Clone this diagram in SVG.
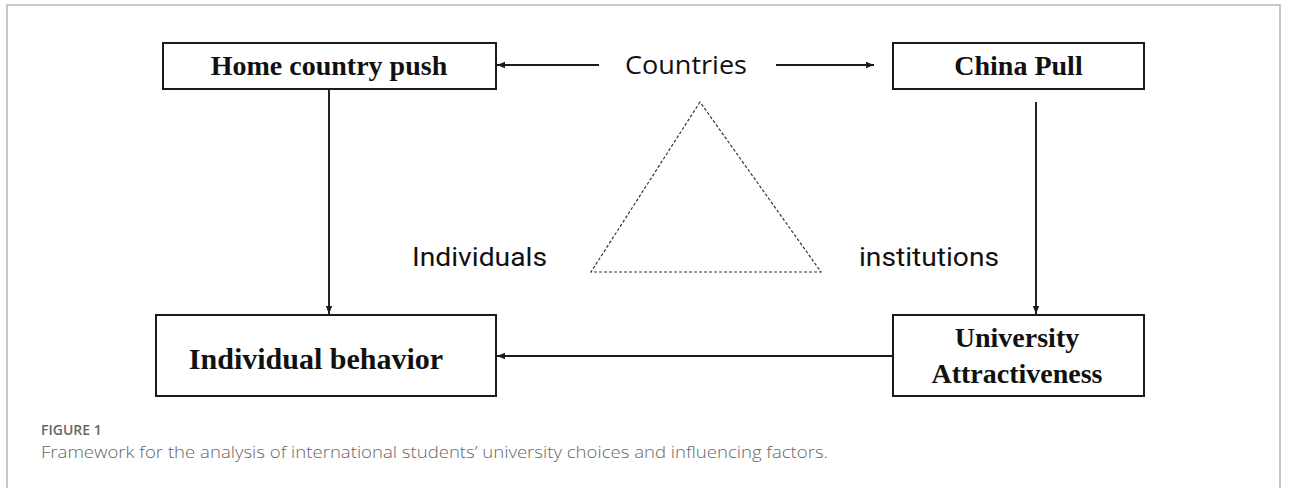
<svg xmlns="http://www.w3.org/2000/svg" width="1293" height="488" viewBox="0 0 1293 488">
<defs>
<style>
.box{fill:#fff;stroke:#1a1a1a;stroke-width:2}
.bt{font-family:"Liberation Serif","Times New Roman",serif;font-weight:bold;fill:#111;text-anchor:middle}
.st{font-family:"Open Sans","Noto Sans",sans-serif;fill:#111;font-size:26px;font-weight:500}
.rt{font-family:Roboto,"Liberation Sans",sans-serif;fill:#111;font-size:26px}
.ln{stroke:#1a1a1a;stroke-width:1.9;fill:none}
.cap{font-family:"Open Sans","Noto Sans",sans-serif;fill:#666}
</style>
<marker id="ah" viewBox="0 0 10 10" refX="10" refY="5" markerWidth="8" markerHeight="8" markerUnits="userSpaceOnUse" orient="auto">
<path d="M0,1 L10,5 L0,9 Z" fill="#1a1a1a"/>
</marker>
</defs>
<rect width="1293" height="488" fill="#fff"/>
<rect x="7" y="5" width="1273" height="500" fill="none" stroke="#c8c8c8" stroke-width="2"/>
<g id="connectors">
<line class="ln" x1="599" y1="65" x2="497" y2="65" marker-end="url(#ah)"/>
<line class="ln" x1="776" y1="65" x2="874" y2="65" marker-end="url(#ah)"/>
<line class="ln" x1="329" y1="89" x2="329" y2="314" marker-end="url(#ah)"/>
<line class="ln" x1="1036" y1="102" x2="1036" y2="314" marker-end="url(#ah)"/>
<line class="ln" x1="893" y1="356" x2="497" y2="356" marker-end="url(#ah)"/>
</g>
<g id="triangle">
<polygon points="700,102 591,272 821,272" fill="none" stroke="#333" stroke-width="1.2" stroke-dasharray="3,2"/>
</g>
<g id="home">
<rect class="box" x="163" y="43" width="333" height="46"/>
<text class="bt" x="329" y="75" font-size="28">Home country push</text>
</g>
<g id="china">
<rect class="box" x="893" y="43" width="251" height="46"/>
<text class="bt" x="1018.5" y="75" font-size="28">China Pull</text>
</g>
<g id="individual">
<rect class="box" x="156" y="315" width="340" height="81"/>
<text class="bt" x="316" y="369" font-size="30">Individual behavior</text>
</g>
<g id="university">
<rect class="box" x="893" y="315" width="251" height="81"/>
<text class="bt" x="1017" y="347" font-size="28">University</text>
<text class="bt" x="1017" y="383" font-size="28">Attractiveness</text>
</g>
<g id="countries">
<text class="st" x="625" y="74" textLength="122" lengthAdjust="spacingAndGlyphs">Countries</text>
</g>
<g id="individuals">
<text class="rt" x="412" y="266" textLength="135" lengthAdjust="spacingAndGlyphs">Individuals</text>
</g>
<g id="institutions">
<text class="rt" x="859" y="266" textLength="140" lengthAdjust="spacingAndGlyphs">institutions</text>
</g>
<g id="caption">
<text class="cap" x="41" y="435" font-size="14" font-weight="600">FIGURE 1</text>
<text class="cap" x="41" y="458" font-size="16" font-weight="300" fill="#555" textLength="787" lengthAdjust="spacingAndGlyphs">Framework for the analysis of international students’ university choices and influencing factors.</text>
</g>
</svg>
